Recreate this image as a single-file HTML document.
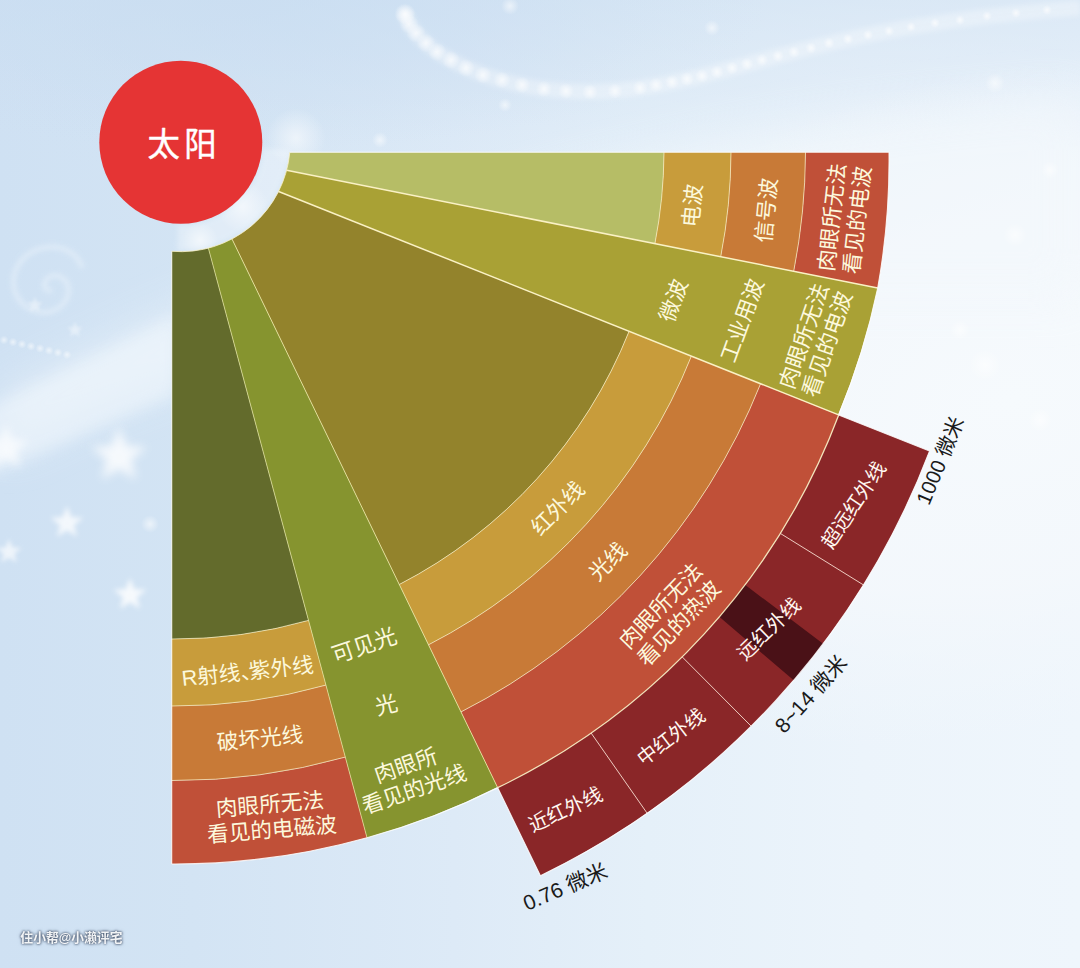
<!DOCTYPE html>
<html lang="zh">
<head>
<meta charset="utf-8">
<title>太阳光谱示意图</title>
<style>
html,body{margin:0;padding:0;}
body{width:1080px;height:968px;overflow:hidden;background:#dce9f5;font-family:"Liberation Sans","Noto Sans CJK SC",sans-serif;}
svg{display:block;font-family:"Liberation Sans","Noto Sans CJK SC",sans-serif;}
</style>
</head>
<body>
<svg width="1080" height="968" viewBox="0 0 1080 968">
<defs>
<linearGradient id="bgA" x1="0" y1="0" x2="1" y2="0">
<stop offset="0" stop-color="#cfe1f3"/><stop offset="0.18" stop-color="#d3e4f4"/><stop offset="0.42" stop-color="#ddeaf7"/><stop offset="0.6" stop-color="#e5f0f9"/><stop offset="0.8" stop-color="#ecf4fb"/><stop offset="1" stop-color="#eff6fc"/>
</linearGradient>
<linearGradient id="bgTop" x1="0" y1="0" x2="0" y2="1">
<stop offset="0" stop-color="#cbdef1" stop-opacity="0.55"/><stop offset="0.5" stop-color="#cfe0f2" stop-opacity="0.35"/><stop offset="1" stop-color="#d0e1f2" stop-opacity="0"/>
</linearGradient>
<radialGradient id="glowR" cx="0.5" cy="0.5" r="0.5">
<stop offset="0" stop-color="#f6fafd" stop-opacity="1"/><stop offset="0.55" stop-color="#f4f8fc" stop-opacity="0.9"/><stop offset="1" stop-color="#f2f7fc" stop-opacity="0"/>
</radialGradient>
<radialGradient id="tl" cx="0.5" cy="0.5" r="0.5"><stop offset="0" stop-color="#c9ddf1" stop-opacity="0.7"/><stop offset="1" stop-color="#c9ddf1" stop-opacity="0"/></radialGradient>
<radialGradient id="dot" cx="0.5" cy="0.5" r="0.5">
<stop offset="0" stop-color="#fff" stop-opacity="0.7"/><stop offset="0.5" stop-color="#fff" stop-opacity="0.35"/><stop offset="1" stop-color="#fff" stop-opacity="0"/>
</radialGradient>
<filter id="b2" x="-50%" y="-50%" width="200%" height="200%"><feGaussianBlur stdDeviation="2.8"/></filter>
<filter id="b1" x="-50%" y="-50%" width="200%" height="200%"><feGaussianBlur stdDeviation="1.7"/></filter>
<filter id="b6" x="-50%" y="-50%" width="200%" height="200%"><feGaussianBlur stdDeviation="7"/></filter>
<filter id="b20" x="-50%" y="-50%" width="200%" height="200%"><feGaussianBlur stdDeviation="22"/></filter>
<path id="star" d="M0 -10 L2.6 -3.4 L9.6 -3.1 L4.1 1.3 L5.9 8.1 L0 4.3 L-5.9 8.1 L-4.1 1.3 L-9.6 -3.1 L-2.6 -3.4 Z"/>
</defs>
<g id="background">
<rect width="1080" height="968" fill="url(#bgA)"/>
<rect width="1080" height="170" fill="url(#bgTop)"/>
<ellipse cx="250" cy="0" rx="520" ry="150" fill="url(#tl)"/>
<ellipse cx="1010" cy="400" rx="560" ry="330" fill="url(#glowR)" transform="rotate(-14 1010 400)"/>
<path d="M1080 95 C900 105 760 130 640 160 C420 215 250 270 0 395 L0 455 C250 330 470 300 700 300 L1080 300 Z" fill="#f3f8fc" opacity="0.55" filter="url(#b20)"/>
<path d="M-20 412 L175 316 L175 395 L-20 480 Z" fill="#f2f8fd" opacity="0.5" filter="url(#b6)"/>
<circle cx="4" cy="340" r="4.5" fill="url(#dot)" opacity="0.8"/>
<circle cx="13" cy="342.1" r="4.5" fill="url(#dot)" opacity="0.8"/>
<circle cx="22" cy="344.2" r="4.5" fill="url(#dot)" opacity="0.8"/>
<circle cx="31" cy="346.3" r="4.5" fill="url(#dot)" opacity="0.8"/>
<circle cx="40" cy="348.4" r="4.5" fill="url(#dot)" opacity="0.8"/>
<circle cx="49" cy="350.5" r="4.5" fill="url(#dot)" opacity="0.8"/>
<circle cx="58" cy="352.6" r="4.5" fill="url(#dot)" opacity="0.8"/>
<circle cx="67" cy="354.7" r="4.5" fill="url(#dot)" opacity="0.8"/>
<rect y="800" width="1080" height="168" fill="#d3e4f4" opacity="0.0"/>
<path d="M276.2 149.2 A95.5 95.5 0 0 1 177.8 237.6" stroke="#fff" stroke-width="26" fill="none" opacity="0.3" filter="url(#b2)"/>
<path d="M82 268 C74 238 22 240 14 276 C8 308 50 326 66 300 C76 282 56 268 46 280 C42 286 46 292 52 290" stroke="#e4eff9" stroke-width="5" fill="none" opacity="0.7" filter="url(#b2)"/>
<use href="#star" transform="translate(119 456) scale(2.9)" fill="#fff" opacity="0.8" filter="url(#b1)"/>
<use href="#star" transform="translate(67 523) scale(1.7)" fill="#fff" opacity="0.75" filter="url(#b1)"/>
<use href="#star" transform="translate(6 448) scale(2.4)" fill="#fff" opacity="0.7" filter="url(#b1)"/>
<use href="#star" transform="translate(130 595) scale(1.7)" fill="#fff" opacity="0.8" filter="url(#b1)"/>
<use href="#star" transform="translate(9 552) scale(1.3)" fill="#fff" opacity="0.65" filter="url(#b1)"/>
<use href="#star" transform="translate(35 305) scale(0.8)" fill="#fff" opacity="0.4" filter="url(#b1)"/>
<use href="#star" transform="translate(75 330) scale(0.8)" fill="#fff" opacity="0.4" filter="url(#b1)"/>
<circle cx="405" cy="14" r="10.0" fill="url(#dot)"/>
<circle cx="409" cy="24" r="9.8" fill="url(#dot)"/>
<circle cx="416" cy="33" r="9.7" fill="url(#dot)"/>
<circle cx="426" cy="43" r="9.5" fill="url(#dot)"/>
<circle cx="437" cy="52" r="9.3" fill="url(#dot)"/>
<circle cx="451" cy="60" r="9.2" fill="url(#dot)"/>
<circle cx="466" cy="68" r="9.0" fill="url(#dot)"/>
<circle cx="483" cy="75" r="8.8" fill="url(#dot)"/>
<circle cx="502" cy="80" r="8.7" fill="url(#dot)"/>
<circle cx="522" cy="85" r="8.5" fill="url(#dot)"/>
<circle cx="544" cy="89" r="8.3" fill="url(#dot)"/>
<circle cx="566" cy="91" r="8.2" fill="url(#dot)"/>
<circle cx="590" cy="92" r="8.0" fill="url(#dot)"/>
<circle cx="615" cy="91" r="7.8" fill="url(#dot)"/>
<circle cx="640" cy="88" r="7.7" fill="url(#dot)"/>
<circle cx="656" cy="85" r="7.5" fill="url(#dot)"/>
<circle cx="672" cy="82" r="7.3" fill="url(#dot)"/>
<circle cx="687" cy="79" r="7.2" fill="url(#dot)"/>
<circle cx="702" cy="76" r="7.0" fill="url(#dot)"/>
<circle cx="717" cy="72" r="6.8" fill="url(#dot)"/>
<circle cx="732" cy="68" r="6.7" fill="url(#dot)"/>
<circle cx="747" cy="64" r="6.5" fill="url(#dot)"/>
<circle cx="762" cy="60" r="6.3" fill="url(#dot)"/>
<circle cx="778" cy="56" r="6.2" fill="url(#dot)"/>
<circle cx="794" cy="52" r="6.0" fill="url(#dot)"/>
<circle cx="811" cy="48" r="5.8" fill="url(#dot)"/>
<circle cx="829" cy="43" r="5.7" fill="url(#dot)"/>
<circle cx="848" cy="39" r="5.5" fill="url(#dot)"/>
<circle cx="868" cy="35" r="5.3" fill="url(#dot)"/>
<circle cx="889" cy="31" r="5.2" fill="url(#dot)"/>
<circle cx="911" cy="27" r="5.0" fill="url(#dot)"/>
<circle cx="935" cy="23" r="5.0" fill="url(#dot)"/>
<circle cx="960" cy="20" r="5.0" fill="url(#dot)"/>
<circle cx="987" cy="16" r="5.0" fill="url(#dot)"/>
<circle cx="1016" cy="13" r="5.0" fill="url(#dot)"/>
<circle cx="1047" cy="10" r="5.0" fill="url(#dot)"/>
<path d="M405 14 C420 60 520 105 640 88 C760 70 830 25 1080 8" stroke="#fff" stroke-width="15" fill="none" opacity="0.3" filter="url(#b2)"/>
<circle cx="150" cy="524" r="9" fill="url(#dot)" opacity="0.8"/>
<circle cx="243" cy="207" r="26" fill="url(#dot)" opacity="0.8"/>
<circle cx="296" cy="138" r="30" fill="url(#dot)" opacity="0.8"/>
<circle cx="200" cy="240" r="18" fill="url(#dot)" opacity="0.8"/>
<circle cx="405" cy="14" r="11" fill="url(#dot)" opacity="0.8"/>
<circle cx="510" cy="6" r="9" fill="url(#dot)" opacity="0.8"/>
<circle cx="712" cy="28" r="8" fill="url(#dot)" opacity="0.8"/>
<circle cx="995" cy="83" r="10" fill="url(#dot)" opacity="0.8"/>
<circle cx="505" cy="105" r="7" fill="url(#dot)" opacity="0.8"/>
<circle cx="380" cy="140" r="8" fill="url(#dot)" opacity="0.8"/>
<circle cx="1015" cy="235" r="12" fill="url(#dot)" opacity="0.8"/>
<circle cx="985" cy="365" r="16" fill="url(#dot)" opacity="0.8"/>
<circle cx="1050" cy="170" r="9" fill="url(#dot)" opacity="0.8"/>
<circle cx="1040" cy="420" r="12" fill="url(#dot)" opacity="0.8"/>
<circle cx="960" cy="330" r="10" fill="url(#dot)" opacity="0.8"/>
</g>
<circle cx="180.8" cy="142.2" r="81.5" fill="#e53434"/>
<g id="sectors">
<path d="M289.8 152.3 L664 152.3 A489 489 0 0 1 654.9 243.7 L286.6 170.3 A109.5 109.5 0 0 0 289.8 152.3 Z" fill="#b6bd66"/>
<path d="M664 152.3 L731 152.3 A556 556 0 0 1 720.7 256.8 L654.9 243.7 A489 489 0 0 0 664 152.3 Z" fill="#c89c3b"/>
<path d="M731 152.3 L805.5 152.3 A630.5 630.5 0 0 1 793.7 271.3 L720.7 256.8 A556 556 0 0 0 731 152.3 Z" fill="#c87a37"/>
<path d="M805.5 152.3 L889 152.3 A714 714 0 0 1 877.7 288 L793.7 271.3 A630.5 630.5 0 0 0 805.5 152.3 Z" fill="#c05038"/>
<path d="M286.6 170.3 L877.7 288 A714 714 0 0 1 838.1 414.7 L278.6 191.5 A109.5 109.5 0 0 0 286.6 170.3 Z" fill="#a9a135"/>
<path d="M278.6 191.5 L629.1 331.3 A489 489 0 0 1 399.3 584.5 L232 239 A109.5 109.5 0 0 0 278.6 191.5 Z" fill="#93832c"/>
<path d="M629.1 331.3 L691.4 356.1 A556 556 0 0 1 428.5 644.8 L399.3 584.5 A489 489 0 0 0 629.1 331.3 Z" fill="#c89c3b"/>
<path d="M691.4 356.1 L760.6 383.7 A630.5 630.5 0 0 1 461 711.9 L428.5 644.8 A556 556 0 0 0 691.4 356.1 Z" fill="#c87a37"/>
<path d="M760.6 383.7 L838.7 414.9 A681 681 0 0 1 497.7 787.7 L461 711.9 A630.5 630.5 0 0 0 760.6 383.7 Z" fill="#c05038"/>
<path d="M838.7 414.9 L929.5 451.1 A778.8 778.8 0 0 1 540.4 875.7 L497.7 787.7 A681 681 0 0 0 838.7 414.9 Z" fill="#8a2628"/>
<path d="M745 584.8 L823.1 643.7 A778.8 778.8 0 0 1 793.7 680.3 L719.3 616.8 A681 681 0 0 0 745 584.8 Z" fill="#4a1117"/>
<path d="M232 239 L497.4 787.1 A714 714 0 0 1 367 837.7 L208.4 248.2 A109.5 109.5 0 0 0 232 239 Z" fill="#86942f"/>
<path d="M208.4 248.2 L308.5 620.4 A489 489 0 0 1 171.7 639 L171.7 251.3 A109.5 109.5 0 0 0 208.4 248.2 Z" fill="#636b2c"/>
<path d="M308.5 620.4 L325.9 685.1 A556 556 0 0 1 171.7 706 L171.7 639 A489 489 0 0 0 308.5 620.4 Z" fill="#c89c3b"/>
<path d="M325.9 685.1 L345.3 757.1 A630.5 630.5 0 0 1 171.7 780.5 L171.7 706 A556 556 0 0 0 325.9 685.1 Z" fill="#c87a37"/>
<path d="M345.3 757.1 L367 837.7 A714 714 0 0 1 171.7 864 L171.7 780.5 A630.5 630.5 0 0 0 345.3 757.1 Z" fill="#c05038"/>
</g>
<g id="lines" fill="none" stroke="#faf1c4">
<path d="M286.6 170.3 L877.7 288" stroke-width="1.5"/>
<path d="M278.6 191.5 L838.7 414.9" stroke-width="1.5"/>
<path d="M232 239 L497.7 787.7" stroke="#f1eaa6" stroke-width="0.9" stroke-opacity="0.9"/>
<path d="M208.4 248.2 L367 837.7" stroke="#e3e39a" stroke-width="0.9" stroke-opacity="0.85"/>
<path d="M289.8 152.3 A109.5 109.5 0 0 1 171.7 251.3" stroke-width="1" stroke-opacity="0.8"/>
<path d="M664 152.3 A489 489 0 0 1 654.9 243.7" stroke-width="0.9" stroke-opacity="0.8"/>
<path d="M731 152.3 A556 556 0 0 1 720.7 256.8" stroke-width="0.9" stroke-opacity="0.8"/>
<path d="M805.5 152.3 A630.5 630.5 0 0 1 793.7 271.3" stroke-width="0.9" stroke-opacity="0.8"/>
<path d="M629.1 331.3 A489 489 0 0 1 399.3 584.5" stroke-width="0.9" stroke-opacity="0.8"/>
<path d="M691.4 356.1 A556 556 0 0 1 428.5 644.8" stroke-width="0.9" stroke-opacity="0.8"/>
<path d="M760.6 383.7 A630.5 630.5 0 0 1 461 711.9" stroke-width="0.9" stroke-opacity="0.8"/>
<path d="M308.5 620.4 A489 489 0 0 1 171.7 639" stroke-width="0.9" stroke-opacity="0.8"/>
<path d="M325.9 685.1 A556 556 0 0 1 171.7 706" stroke-width="0.9" stroke-opacity="0.8"/>
<path d="M345.3 757.1 A630.5 630.5 0 0 1 171.7 780.5" stroke-width="0.9" stroke-opacity="0.8"/>
<path d="M838.7 414.9 A681 681 0 0 1 497.7 787.7" stroke-width="1.3" stroke-opacity="0.9"/>
<path d="M780.3 533.4 L863.4 584.9" stroke="#f7ddd0" stroke-width="1" stroke-opacity="0.9"/>
<path d="M682.2 656.9 L751.2 726.2" stroke="#f7ddd0" stroke-width="1" stroke-opacity="0.9"/>
<path d="M591.1 733 L647.1 813.2" stroke="#f7ddd0" stroke-width="1" stroke-opacity="0.9"/>
<path d="M889 152.3 A714 714 0 0 1 877.7 288" stroke="#ffffff" stroke-width="1.1" stroke-opacity="0.85"/>
<path d="M877.7 288 A714 714 0 0 1 838.7 414.9" stroke="#ffffff" stroke-width="1.1" stroke-opacity="0.85"/>
<path d="M838.7 414.9 L929.5 451.1 A778.8 778.8 0 0 1 540.4 875.7 L497.7 787.7" stroke="#ffffff" stroke-width="1.1" stroke-opacity="0.85"/>
<path d="M497.7 787.7 A714 714 0 0 1 367 837.7" stroke="#ffffff" stroke-width="1.1" stroke-opacity="0.85"/>
<path d="M367 837.7 A714 714 0 0 1 171.7 864" stroke="#ffffff" stroke-width="1.1" stroke-opacity="0.85"/>
<path d="M289.8 152.3 L889 152.3" stroke="#ffffff" stroke-width="1.1" stroke-opacity="0.85"/>
<path d="M171.7 251.3 L171.7 864" stroke="#ffffff" stroke-width="1.1" stroke-opacity="0.85"/>
</g>
<g id="labels" font-family="'Liberation Sans','Noto Sans CJK SC',sans-serif" text-anchor="middle">
<g id="lb_sun" transform="translate(182 143.5) rotate(0)" fill="#ffffff" stroke="#ffffff" stroke-width="0.45" stroke-linejoin="round">
<text x="2.2" y="12.3" font-size="32.4" letter-spacing="4.3">太阳</text>
</g>
<g id="lb_s1a" transform="translate(691.8 205.5) rotate(-84.5)" fill="#fcf8dc">
<text x="0" y="8.25" font-size="21.7">电波</text>
</g>
<g id="lb_s1b" transform="translate(765.8 210.2) rotate(-84.5)" fill="#fcf8dc">
<text x="0" y="8.25" font-size="21.7">信号波</text>
</g>
<g id="lb_s1c" transform="translate(844 218.6) rotate(-83.5)" fill="#fcf8dc">
<text x="0" y="-4.45" font-size="21.7">肉眼所无法</text>
<text x="0" y="20.94" font-size="21.7">看见的电波</text>
</g>
<g id="lb_s2a" transform="translate(672.9 300.3) rotate(-70)" fill="#fcf8dc">
<text x="0" y="8.25" font-size="21.7">微波</text>
</g>
<g id="lb_s2b" transform="translate(741.6 320.2) rotate(-70)" fill="#fcf8dc">
<text x="0" y="8.25" font-size="21.7">工业用波</text>
</g>
<g id="lb_s2c" transform="translate(815 339.9) rotate(-70.8)" fill="#fcf8dc">
<text x="0" y="-3.96" font-size="22">肉眼所无法</text>
<text x="0" y="20.68" font-size="22">看见的电波</text>
</g>
<g id="lb_s3a" transform="translate(557.3 507.9) rotate(-45)" fill="#fcf8dc">
<text x="0" y="8.25" font-size="21.7">红外线</text>
</g>
<g id="lb_s3b" transform="translate(607.4 561.2) rotate(-45)" fill="#fcf8dc">
<text x="0" y="8.25" font-size="21.7">光线</text>
</g>
<g id="lb_s3c" transform="translate(669.4 614.2) rotate(-46.2)" fill="#fcf8dc">
<text x="0" y="-4.45" font-size="21.7">肉眼所无法</text>
<text x="0" y="20.94" font-size="21.7">看见的热波</text>
</g>
<g id="lb_d1" transform="translate(853.2 504.6) rotate(-56.3)" fill="#fff7f0">
<text x="0" y="7.52" font-size="19.8">超远红外线</text>
</g>
<g id="lb_d2" transform="translate(768.6 628.6) rotate(-44)" fill="#fff7f0">
<text x="0" y="7.52" font-size="19.8">远红外线</text>
</g>
<g id="lb_d3" transform="translate(670.7 736.6) rotate(-37.4)" fill="#fff7f0">
<text x="0" y="7.52" font-size="19.8">中红外线</text>
</g>
<g id="lb_d4" transform="translate(565.2 809.1) rotate(-25.3)" fill="#fff7f0">
<text x="0" y="7.52" font-size="19.8">近红外线</text>
</g>
<g id="lb_c1" transform="translate(939.7 460.4) rotate(-67.5)" fill="#1a1a1a">
<text x="0" y="7.6" font-size="20.6">1000 微米</text>
</g>
<g id="lb_c2" transform="translate(810.5 693.8) rotate(-47.8)" fill="#1a1a1a">
<text x="0" y="7.8" font-size="21.1">8~14 微米</text>
</g>
<g id="lb_c3" transform="translate(565 886.4) rotate(-23)" fill="#1a1a1a">
<text x="0" y="7.8" font-size="21.1">0.76 微米</text>
</g>
<g id="lb_s4a" transform="translate(364.1 644.8) rotate(-18.5)" fill="#fcf8dc">
<text x="0" y="8.47" font-size="22.3">可见光</text>
</g>
<g id="lb_s4b" transform="translate(386 704.4) rotate(-15)" fill="#fcf8dc">
<text x="0" y="8.47" font-size="22.3">光</text>
</g>
<g id="lb_s4c" transform="translate(409.8 776.9) rotate(-19)" fill="#fcf8dc">
<text x="0" y="-4.45" font-size="21.7">肉眼所</text>
<text x="0" y="20.94" font-size="21.7">看见的光线</text>
</g>
<g id="lb_s5a" transform="translate(247.5 670.9) rotate(-6)" fill="#fcf8dc">
<text x="0" y="8.25" font-size="21.7">R射线<tspan letter-spacing="-13.2">、</tspan>紫外线</text>
</g>
<g id="lb_s5b" transform="translate(259.8 737.9) rotate(-5.6)" fill="#fcf8dc">
<text x="0" y="8.25" font-size="21.7">破坏光线</text>
</g>
<g id="lb_s5c" transform="translate(270.9 816.4) rotate(-4.7)" fill="#fcf8dc">
<text x="0" y="-4.45" font-size="21.7">肉眼所无法</text>
<text x="0" y="20.94" font-size="21.7">看见的电磁波</text>
</g>
</g>
<g id="watermark">
<g style="filter:drop-shadow(0.5px 0.8px 1.1px rgba(40,55,80,0.95)) drop-shadow(0 0 1.5px rgba(60,75,100,0.55))"><g id="lb_wm" transform="translate(71.4 936.7) rotate(0)" fill="#ffffff" opacity="0.92">
<text x="0" y="4.86" font-size="12.8" font-weight="bold" text-anchor="middle" font-family="'Liberation Sans','Noto Sans CJK SC',sans-serif">住小帮@小濑评宅</text>
</g></g>
</g>
</svg>
</body>
</html>
